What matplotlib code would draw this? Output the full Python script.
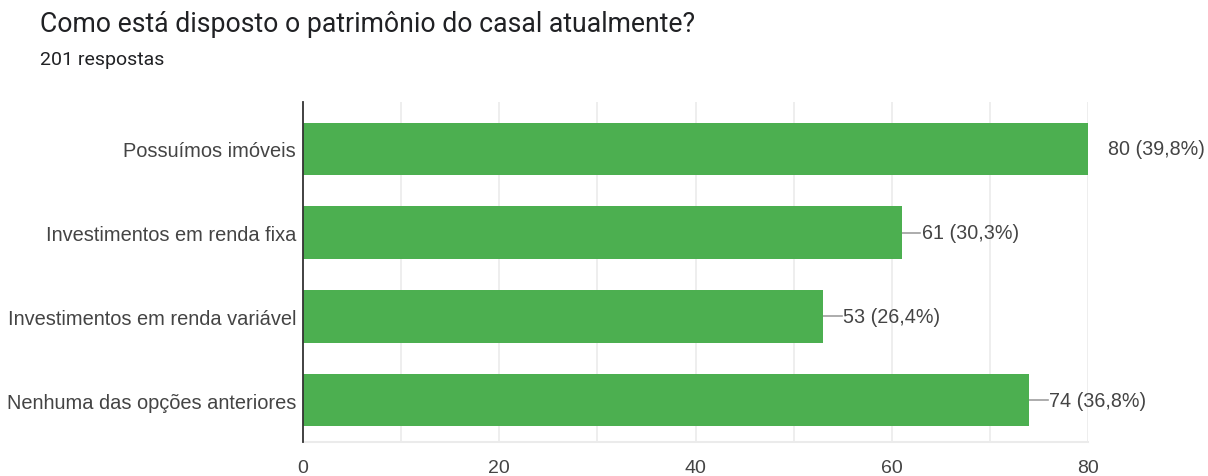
import matplotlib
matplotlib.use('Agg')
import matplotlib.pyplot as plt

plt.rcParams['font.family'] = ['Liberation Sans', 'DejaVu Sans']

# Survey answers
titulo = 'Como está disposto o patrimônio do casal atualmente?'
total_respostas = 201
opcoes = ['Possuímos imóveis', 'Investimentos em renda fixa',
          'Investimentos em renda variável', 'Nenhuma das opções anteriores']
contagens = [80, 61, 53, 74]
percentuais = ['39,8%', '30,3%', '26,4%', '36,8%']
ticks_x = [0, 20, 40, 60, 80]

verde = '#4caf50'
cinza_texto = '#444444'

fig = plt.figure(figsize=(12.08, 4.77), dpi=100)
ax = fig.add_axes([0.2508, 0.0713, 0.6499, 0.7127])

posicoes = list(range(len(opcoes)))
ax.barh(posicoes, contagens, height=0.63, color=verde, zorder=3)

ax.set_xlim(0, 80)
ax.set_ylim(3.5, -0.56)

# light vertical grid every 10 units
for x in range(10, 81, 10):
    ax.axvline(x, color='#ebebeb', lw=1.2, zorder=1)
ax.axhline(3.5, color='#ebebeb', lw=1.5, zorder=1, clip_on=False)

# value labels with small leader lines
for y, v, p in zip(posicoes, contagens, percentuais):
    ax.plot([v, v + 1.9], [y, y], color='#9e9e9e', lw=1.2, zorder=2)
    ax.annotate(f'{v} ({p})', xy=(v, y), xytext=(20, 0), textcoords='offset pixels',
                va='center', ha='left', fontsize=14.2, color=cinza_texto,
                annotation_clip=False)

ax.set_xticks(ticks_x)
ax.set_yticks(posicoes)
ax.set_yticklabels(opcoes)
ax.tick_params(axis='both', length=0, labelcolor=cinza_texto)
ax.tick_params(axis='x', pad=12, labelsize=14)
ax.tick_params(axis='y', pad=5, labelsize=14.4)

for lado in ['top', 'right', 'bottom']:
    ax.spines[lado].set_visible(False)
ax.spines['left'].set_color('#333333')
ax.spines['left'].set_linewidth(1.3)
ax.spines['left'].set_zorder(4)

fig.text(40 / 1208, 1 - 25 / 477, titulo, fontsize=19.2, color='#202124',
         va='center', ha='left', family='Roboto')
fig.text(40 / 1208, 1 - 60 / 477, f'{total_respostas} respostas', fontsize=14,
         color='#202124', va='center', ha='left', family='Roboto')

fig.savefig('out.png', dpi=100, facecolor='white')
